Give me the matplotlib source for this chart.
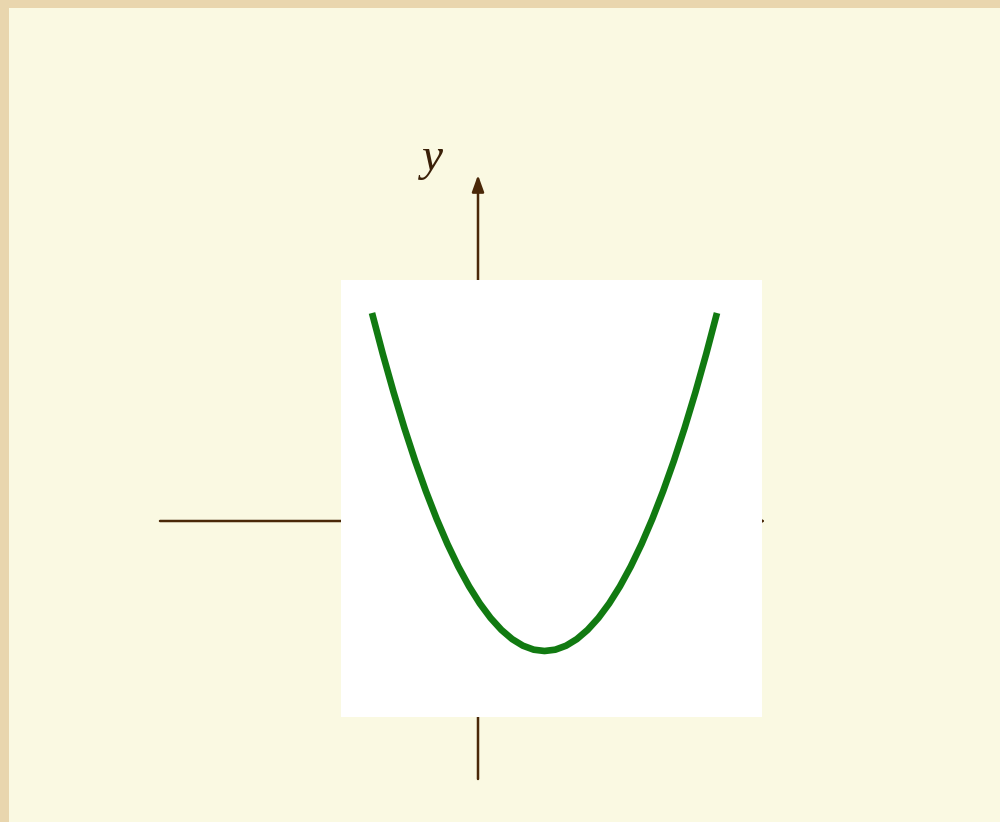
import matplotlib
matplotlib.use("Agg")
import matplotlib.pyplot as plt
from matplotlib.patches import Rectangle, FancyArrowPatch

curve_x = [-2.0, -1.875, -1.75, -1.625, -1.5, -1.375, -1.25, -1.125, -1.0,
           -0.875, -0.75, -0.625, -0.5, -0.375, -0.25, -0.125, 0.0,
           0.125, 0.25, 0.375, 0.5, 0.625, 0.75, 0.875, 1.0,
           1.125, 1.25, 1.375, 1.5, 1.625, 1.75, 1.875, 2.0]
curve_y = [4.0, 3.515625, 3.0625, 2.640625, 2.25, 1.890625, 1.5625, 1.265625, 1.0,
           0.765625, 0.5625, 0.390625, 0.25, 0.140625, 0.0625, 0.015625, 0.0,
           0.015625, 0.0625, 0.140625, 0.25, 0.390625, 0.5625, 0.765625, 1.0,
           1.265625, 1.5625, 1.890625, 2.25, 2.640625, 3.0625, 3.515625, 4.0]
axis_label_y = "y"

W, H = 1000, 822
fig = plt.figure(figsize=(W / 100, H / 100), dpi=100)
fig.patch.set_facecolor("#E9D6AE")

bg = fig.add_axes([0, 0, 1, 1])
bg.set_xlim(0, W)
bg.set_ylim(H, 0)
bg.axis("off")

brown = "#4A2808"
# cream panel
bg.add_patch(Rectangle((9, 8), W - 9, H - 8, facecolor="#FAF9E2", edgecolor="none", zorder=0))
# x axis
bg.add_patch(FancyArrowPatch((160, 521), (766, 521), arrowstyle="-|>,head_length=5,head_width=2",
                             color=brown, lw=1.8, mutation_scale=2, shrinkA=0, shrinkB=0, zorder=1))
# y axis
bg.add_patch(FancyArrowPatch((478, 779), (478, 175), arrowstyle="-|>,head_length=5,head_width=1.8",
                             color=brown, lw=1.8, mutation_scale=2, shrinkA=0, shrinkB=0, zorder=1))
bg.text(432, 159, axis_label_y, fontsize=34, fontstyle="italic", family="Liberation Serif",
        color="#3A2008", ha="center", va="center", zorder=2)

# white picture with the parabola
left, right, top, bottom = 341, 762, 280, 717
ax = fig.add_axes([left / W, 1 - bottom / H, (right - left) / W, (bottom - top) / H])
ax.set_facecolor("white")
for s in ax.spines.values():
    s.set_visible(False)
ax.set_xticks([])
ax.set_yticks([])
px_per_x = (717 - 372) / 4.0
px_per_y = (651 - 313) / 4.0
cx = 544.5
ax.set_xlim((left - cx) / px_per_x, (right - cx) / px_per_x)
ax.set_ylim((651 - bottom) / px_per_y, (651 - top) / px_per_y)
ax.plot(curve_x, curve_y, color="#117A11", lw=4.8, solid_capstyle="butt")

fig.savefig("out.png", dpi=100, facecolor=fig.get_facecolor())
